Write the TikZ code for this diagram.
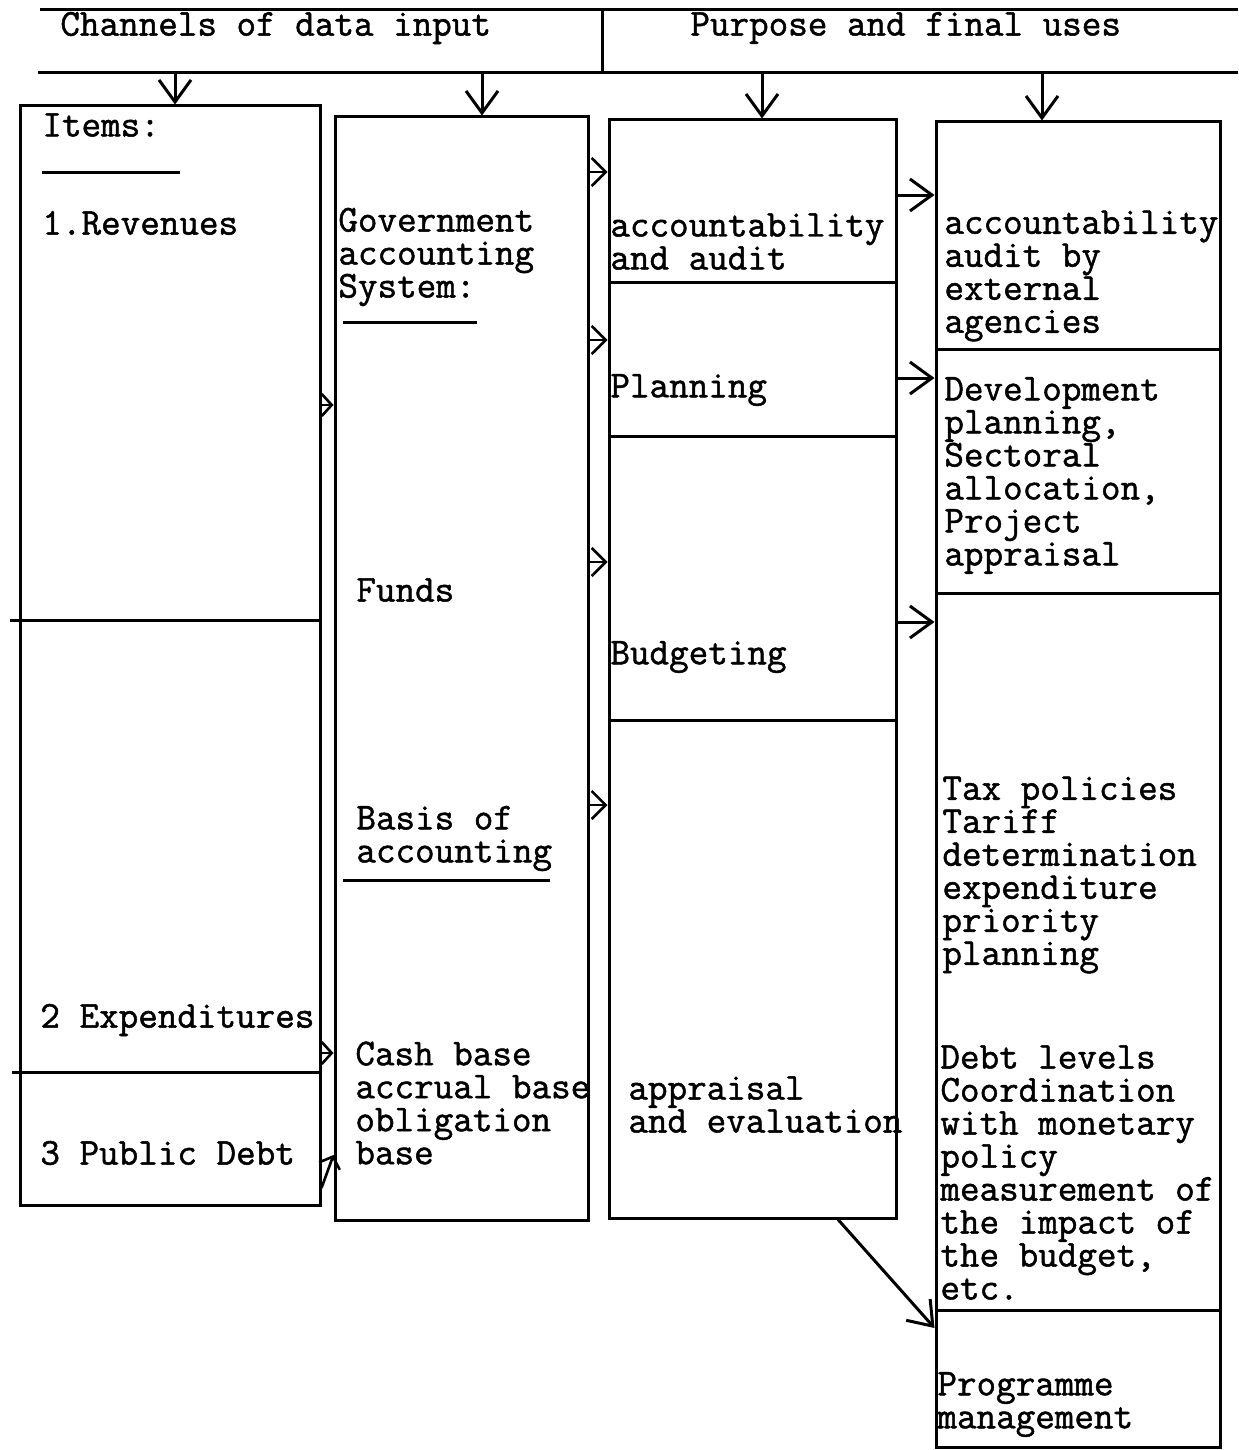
\documentclass[tikz,border=0pt]{standalone}
\usepackage{fontspec}
\newfontfamily\typer{Latin Modern Mono}[FakeBold=1.3]
\usetikzlibrary{arrows.meta, positioning, fit}

\begin{document}
\begin{tikzpicture}[
    x=0.5pt, y=-0.5pt,
    col/.style={rectangle, draw, line width=1.5pt, inner sep=0pt},
    rule/.style={line width=1.5pt},
    txt/.style={anchor=west, inner sep=0pt, align=left,
                font=\typer\fontsize{19}{16.5}\selectfont},
    down/.style={-{Straight Barb[length=11pt, width=16pt]}, line width=1.5pt},
    feed/.style={-{Straight Barb[length=7pt, width=14pt]}, line width=1.3pt},
    nudge/.style={-{Straight Barb[length=5pt, width=11pt]}, line width=1.3pt}
  ]
  \useasboundingbox (0,0) rectangle (1238,1450);

  % Header
  \draw[rule] (40,10) -- (1238,10);
  \draw[rule] (38,73) -- (1238,73);
  \draw[rule] (602,10) -- (602,73);
  \node[txt] (chan) at (60,28) {Channels of data input};
  \node[txt] (purp) at (690,28) {Purpose and final uses};

  % Columns
  \node[col, fit={(20,106) (320,1205)}] (items) {};
  \node[col, fit={(335,117) (588,1220)}] (gas) {};
  \node[col, fit={(609,120) (896,1218)}] (aims) {};
  \node[col, fit={(936,122) (1220,1447)}] (uses) {};

  % Separators
  \draw[rule] (10,620) -- (items.east |- 0,620);
  \draw[rule] (12,1072) -- (items.east |- 0,1072);
  \draw[rule] (aims.west |- 0,282) -- (aims.east |- 0,282);
  \draw[rule] (aims.west |- 0,436) -- (aims.east |- 0,436);
  \draw[rule] (aims.west |- 0,720) -- (aims.east |- 0,720);
  \draw[rule] (uses.west |- 0,349) -- (uses.east |- 0,349);
  \draw[rule] (uses.west |- 0,593) -- (uses.east |- 0,593);
  \draw[rule] (uses.west |- 0,1310) -- (uses.east |- 0,1310);

  % Items
  \node[txt] (itemhd) at (42,125) {Items:};
  \draw[rule] (42,172) -- (180,172);
  \node[txt] (rev) at (42,223) {1.Revenues};
  \node[txt] (expd) at (40,1020) {2 Expenditures};
  \node[txt] (debt) at (40,1153) {3 Public Debt};

  % Accounting system
  \node[txt] (gacs) at (338,257) {Government\\accounting\\System:};
  \draw[rule] (343,322) -- (477,322);
  \node[txt] (funds) at (356,590) {Funds};
  \node[txt] (basis) at (356,838.5) {Basis of\\accounting};
  \draw[rule] (343,880) -- (550,880);
  \node[txt] (bases) at (355,1103) {Cash base\\accrual base\\obligation\\base};

  % Purposes
  \node[txt] (audit) at (610,241.5) {accountability\\and audit};
  \node[txt] (plan) at (610,390) {Planning};
  \node[txt] (budg) at (610,657) {Budgeting};
  \node[txt] (appr) at (628,1104.5) {appraisal\\and evaluation};

  % Final uses
  \node[txt] (extn) at (944,276) {accountability\\audit by\\external\\agencies};
  \node[txt] (devp) at (944,475.5) {Development\\planning,\\Sectoral\\allocation,\\Project\\appraisal};
  \node[txt] (taxp) at (942,875) {Tax policies\\Tariff\\determination\\expenditure\\priority\\planning};
  \node[txt] (dlev) at (940,1172.5) {Debt levels\\Coordination\\with monetary\\policy\\measurement of\\the impact of\\the budget,\\etc.};
  \node[txt] (prog) at (937,1404.5) {Programme\\management};

  % Header to columns
  \draw[down] (175,73) -- (175,0 |- items.north);
  \draw[down] (482,73) -- (482,0 |- gas.north);
  \draw[down] (762,73) -- (762,0 |- aims.north);
  \draw[down] (1042,73) -- (1042,0 |- uses.north);

  % Items to accounting system
  \draw[nudge] (items.east |- 0,405) -- (gas.west |- 0,405);
  \draw[nudge] (items.east |- 0,1053) -- (gas.west |- 0,1053);
  \draw[nudge] (items.east |- 0,1188) -- (gas.west |- 0,1155);

  % Accounting system to purposes
  \draw[feed] (gas.east |- 0,172) -- (aims.west |- 0,172);
  \draw[feed] (gas.east |- 0,340) -- (aims.west |- 0,340);
  \draw[feed] (gas.east |- 0,562) -- (aims.west |- 0,562);
  \draw[feed] (gas.east |- 0,805) -- (aims.west |- 0,805);

  % Purposes to final uses
  \draw[down] (aims.east |- 0,195) -- (uses.west |- 0,195);
  \draw[down] (aims.east |- 0,378) -- (uses.west |- 0,378);
  \draw[down] (aims.east |- 0,622) -- (uses.west |- 0,622);
  \draw[down] (838,0 |- aims.south) -- (uses.west |- 0,1328);
\end{tikzpicture}
\end{document}
